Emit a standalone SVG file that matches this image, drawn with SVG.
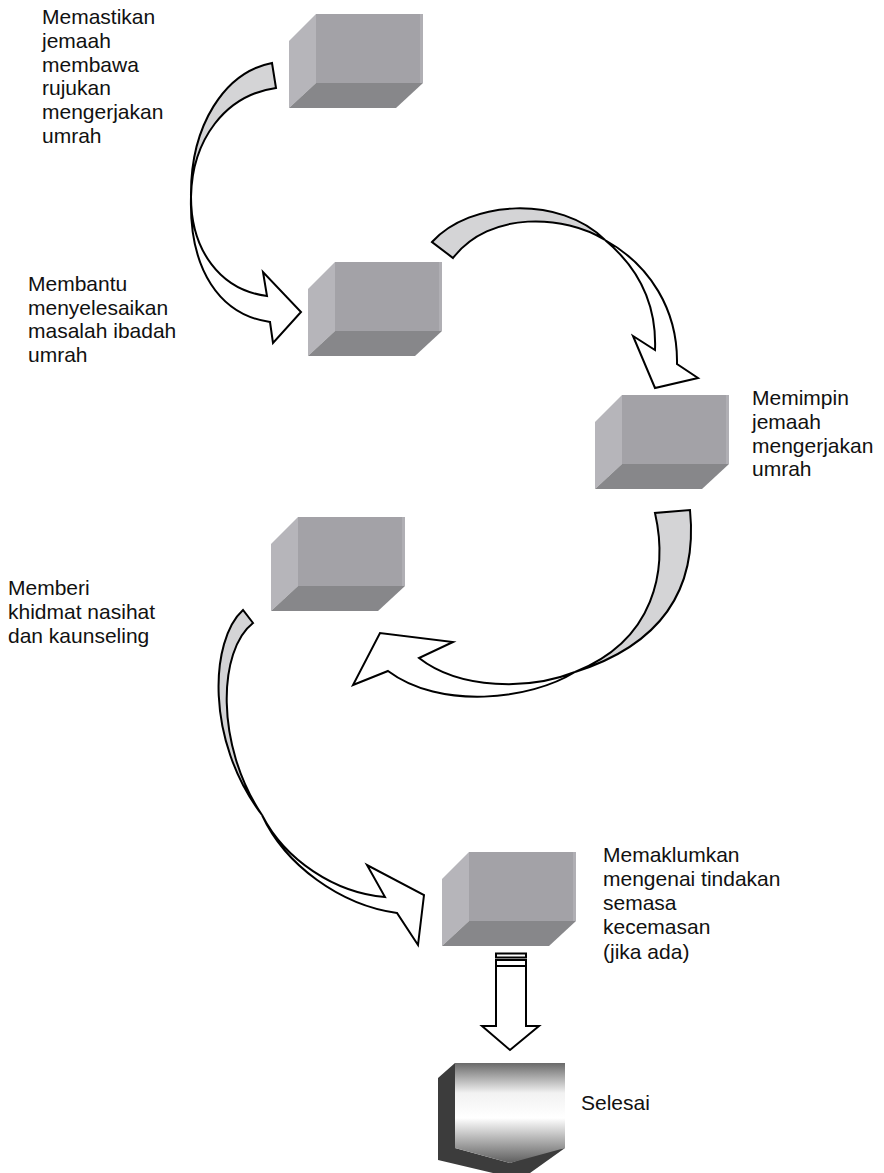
<svg xmlns="http://www.w3.org/2000/svg" width="884" height="1173" viewBox="0 0 884 1173">
<style>
.t{font-family:"Liberation Sans",Arial,sans-serif;font-size:21px;fill:#111}
.fr{fill:#a3a2a7}.sd{fill:#b6b5ba}.bt{fill:#87878a}.ed{fill:#b0afb4}
.g{fill:#d4d4d6;stroke:#000;stroke-width:2;stroke-linejoin:miter}
.w{fill:#fff;stroke:#000;stroke-width:2;stroke-linejoin:miter}
</style>
<defs>
<symbol id="box" viewBox="0 0 134 94" overflow="visible">
<rect class="fr" x="27" y="0" width="107" height="69"/>
<rect class="ed" x="131" y="0" width="3" height="69"/>
<polygon class="sd" points="0,27 27,0 27,69 0,94"/>
<polygon class="bt" points="27,69 134,69 107,94 0,94"/>
</symbol>
<linearGradient id="gr" x1="0" y1="0" x2="0" y2="1">
<stop offset="0" stop-color="#6a6a6a"/>
<stop offset="0.3" stop-color="#f2f2f2"/>
<stop offset="0.55" stop-color="#ffffff"/>
<stop offset="1" stop-color="#5e5e5e"/>
</linearGradient>
</defs>

<g id="connectors">
<g id="arrow1">
<path class="g" d="M272,63 C225,72 190,125 191,197 C192,140 225,95 276,88 Z"/>
<path class="w" d="M191,197 C191,250 220,290 267,296 L263,272 L301,312 L273,343 L270,322 C220,315 189,270 191,197 Z"/>
</g>
<g id="arrow2">
<path class="g" d="M432,242 C470,200 560,195 605,240 C565,215 490,210 453,258 Z"/>
<path class="w" d="M605,240 C635,265 657,300 655,350 L633,336 L655,388 L698,378 L677,364 C678,310 650,265 605,240 Z"/>
</g>
<g id="arrow3">
<path class="g" d="M655,513 C668,570 655,640 575,672 C660,645 698,590 690,510 Z"/>
<path class="w" d="M575,672 C530,690 460,690 419,658 L453,642 L380,633 L353,685 L388,671 C440,710 530,700 575,672 Z"/>
</g>
<g id="arrow4">
<path class="g" d="M243,610 C210,640 205,740 262,815 C215,745 218,650 253,623 Z"/>
<path class="w" d="M262,815 C285,860 335,893 385,897 L367,865 L424,895 L418,945 L397,913 C340,905 285,865 262,815 Z"/>
</g>
<g id="arrow5">
<rect class="w" x="496" y="953.5" width="30" height="4"/>
<rect class="w" x="496" y="960" width="30" height="6"/>
<path class="w" d="M496,966 L526,966 L526,1026 L539,1026 L510,1050 L482,1026 L496,1026 Z"/>
</g>
</g>

<g id="node1">
<use href="#box" x="289" y="14" width="134" height="94"/>
<text class="t" x="42" y="24">Memastikan</text>
<text class="t" x="42" y="47.8">jemaah</text>
<text class="t" x="42" y="71.6">membawa</text>
<text class="t" x="42" y="95.4">rujukan</text>
<text class="t" x="42" y="119.2">mengerjakan</text>
<text class="t" x="42" y="143">umrah</text>
</g>
<g id="node2">
<use href="#box" x="308" y="262" width="134" height="94"/>
<text class="t" x="28" y="291">Membantu</text>
<text class="t" x="28" y="314.6">menyelesaikan</text>
<text class="t" x="28" y="338.2">masalah ibadah</text>
<text class="t" x="28" y="361.8">umrah</text>
</g>
<g id="node3">
<use href="#box" x="595" y="395" width="134" height="94"/>
<text class="t" x="752" y="405">Memimpin</text>
<text class="t" x="752" y="428.8">jemaah</text>
<text class="t" x="752" y="452.6">mengerjakan</text>
<text class="t" x="752" y="476.4">umrah</text>
</g>
<g id="node4">
<use href="#box" x="271" y="517" width="134" height="94"/>
<text class="t" x="8" y="595">Memberi</text>
<text class="t" x="8" y="618.8">khidmat nasihat</text>
<text class="t" x="8" y="642.6">dan kaunseling</text>
</g>
<g id="node5">
<use href="#box" x="442" y="852" width="134" height="94"/>
<text class="t" x="603" y="861.7">Memaklumkan</text>
<text class="t" x="603" y="885.9">mengenai tindakan</text>
<text class="t" x="603" y="910.1">semasa</text>
<text class="t" x="603" y="934.3">kecemasan</text>
<text class="t" x="603" y="958.5">(jika ada)</text>
</g>
<g id="node6">
<polygon fill="#3c3c3c" points="438,1078 455,1063 455,1148 510,1163 548,1150 565,1148 530,1173 493,1173 438,1160"/>
<polygon fill="url(#gr)" points="455,1063 565,1063 565,1148 510,1163 455,1148"/>
<text class="t" x="581" y="1110">Selesai</text>
</g>
</svg>
